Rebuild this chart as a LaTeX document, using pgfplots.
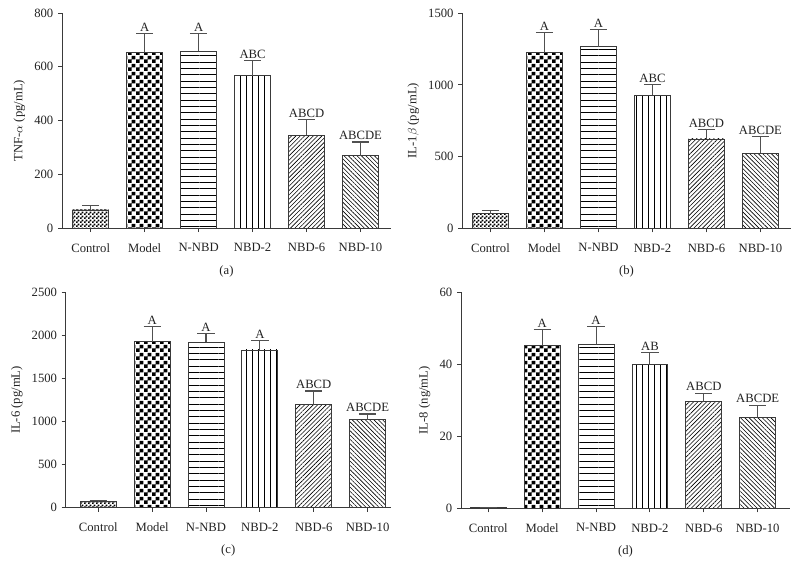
\documentclass[border=0pt]{standalone}
\usepackage{fontspec}
\setmainfont{Liberation Serif}
\usepackage{pgfplots}
\pgfplotsset{compat=1.18}
\usetikzlibrary{patterns,patterns.meta}

\pgfdeclarepatternformonly{chkbig}{\pgfpointorigin}{\pgfpoint{6pt}{6pt}}{\pgfpoint{6pt}{6pt}}{%
 \pgfpathrectangle{\pgfpointorigin}{\pgfpoint{3pt}{3pt}}%
 \pgfpathrectangle{\pgfpoint{3pt}{3pt}}{\pgfpoint{3pt}{3pt}}%
 \pgfusepath{fill}}
\pgfdeclarepatternformonly{chksmall}{\pgfpointorigin}{\pgfpoint{3pt}{3pt}}{\pgfpoint{3pt}{3pt}}{%
 \pgfpathrectangle{\pgfpointorigin}{\pgfpoint{1.5pt}{1.5pt}}%
 \pgfpathrectangle{\pgfpoint{1.5pt}{1.5pt}}{\pgfpoint{1.5pt}{1.5pt}}%
 \pgfusepath{fill}}

\definecolor{axc}{HTML}{3A3A3A}
\definecolor{barc}{HTML}{3A3A3A}
\definecolor{errc}{HTML}{505050}
\definecolor{txtc}{HTML}{222222}

\pgfplotsset{
  panel/.style={
    scale only axis, anchor=south west,
    axis x line*=bottom, axis y line*=left,
    axis line style={-, draw=axc, line width=0.7pt},
    tick style={draw=axc, line width=0.7pt},
    tick align=outside, major tick length=3pt,
    xtick={0,1,2,3,4,5},
    xticklabels={Control,Model,N-NBD,NBD-2,NBD-6,NBD-10},
    ymin=0,
    /pgf/number format/assume math mode=true,
    /pgf/number format/1000 sep={},
    tick label style={font=\fontsize{9.5}{11}\selectfont, text=txtc},
    xticklabel style={yshift=-5pt},
    label style={font=\fontsize{9.5}{11}\selectfont, text=txtc},
    xlabel style={yshift=-3pt},
    clip=false,
  },
  bb/.style={ybar, bar shift=0pt, bar width=0.667, draw=barc, line width=0.7pt, fill=white,
    error bars/y dir=plus, error bars/y explicit,
    error bars/error bar style={line width=0.8pt, draw=errc},
    error bars/error mark options={rotate=90, mark size=6.5pt, line width=0.8pt, draw=errc}},
  p0/.style={postaction={pattern=chksmall}},
  p1/.style={postaction={pattern=chkbig}},
  p2/.style={postaction={pattern={Lines[angle=0,distance=4.75pt,line width=0.7pt]}}},
  p3/.style={postaction={pattern={Lines[angle=90,distance=4.5pt,line width=0.7pt]}}},
  p4/.style={postaction={pattern={Lines[angle=45,distance=2.3pt,line width=0.45pt]}}},
  p5/.style={postaction={pattern={Lines[angle=-45,distance=2.3pt,line width=0.45pt]}}},
}
\newcommand\lab[3]{\node[anchor=south, inner sep=1.5pt, font=\fontsize{9.5}{11}\selectfont, text=txtc] at (axis cs:#1,#2) {#3};}

\begin{document}
\begin{tikzpicture}
\path[use as bounding box] (0,0) rectangle (597pt,-431.25pt);

% (a)
\begin{axis}[panel, at={(46.5pt,-171pt)}, width=246.75pt, height=161.25pt,
  xmin=-0.532, xmax=5.565, ymax=800, ytick={0,200,400,600,800},
  ylabel={TNF-$\alpha$ (pg/mL)}, xlabel={(a)}]
\addplot[bb, p0] coordinates {(0,67) +- (0,16)};
\addplot[bb, p1] coordinates {(1,654) +- (0,70)};
\addplot[bb, p2] coordinates {(2,657) +- (0,67)};
\addplot[bb, p3] coordinates {(3,567) +- (0,55)};
\addplot[bb, p4] coordinates {(4,346) +- (0,58)};
\addplot[bb, p5] coordinates {(5,269) +- (0,51)};
\lab{1}{724}{A}
\lab{2}{724}{A}
\lab{3}{622}{ABC}
\lab{4}{404}{ABCD}
\lab{5}{320}{ABCDE}
\end{axis}

% (b)
\begin{axis}[panel, at={(346.7pt,-171.2pt)}, width=246.3pt, height=161.25pt,
  xmin=-0.522, xmax=5.56, ymax=1500, ytick={0,500,1000,1500},
  ylabel={IL-1$\beta$ (pg/mL)}, xlabel={(b)}]
\addplot[bb, p0] coordinates {(0,100) +- (0,23)};
\addplot[bb, p1] coordinates {(1,1228) +- (0,137)};
\addplot[bb, p2] coordinates {(2,1265) +- (0,119)};
\addplot[bb, p3] coordinates {(3,928) +- (0,74)};
\addplot[bb, p4] coordinates {(4,623) +- (0,65)};
\addplot[bb, p5] coordinates {(5,525) +- (0,114)};
\lab{1}{1365}{A}
\lab{2}{1384}{A}
\lab{3}{1002}{ABC}
\lab{4}{688}{ABCD}
\lab{5}{639}{ABCDE}
\end{axis}

% (c)
\begin{axis}[panel, at={(49.3pt,-380.8pt)}, width=243.75pt, height=161.55pt,
  xmin=-0.605, xmax=5.43, ymax=2500, ytick={0,500,1000,1500,2000,2500},
  ylabel={IL-6 (pg/mL)}, xlabel={(c)}]
\addplot[bb, p0] coordinates {(0,77) +- (0,5)};
\addplot[bb, p1] coordinates {(1,1927) +- (0,175)};
\addplot[bb, p2] coordinates {(2,1920) +- (0,100)};
\addplot[bb, p3] coordinates {(3,1831) +- (0,108)};
\addplot[bb, p4] coordinates {(4,1200) +- (0,155)};
\addplot[bb, p5] coordinates {(5,1022) +- (0,66)};
\lab{1}{2102}{A}
\lab{2}{2020}{A}
\lab{3}{1939}{A}
\lab{4}{1355}{ABCD}
\lab{5}{1088}{ABCDE}
\end{axis}

% (d)
\begin{axis}[panel, at={(345.75pt,-381.2pt)}, width=246.75pt, height=162pt,
  xmin=-0.507, xmax=5.60, ymax=60, ytick={0,20,40,60},
  ylabel={IL-8 (ng/mL)}, xlabel={(d)}]
\addplot[bb, p0] coordinates {(0,0.2) +- (0,0)};
\addplot[bb, p1] coordinates {(1,45.3) +- (0,4.4)};
\addplot[bb, p2] coordinates {(2,45.5) +- (0,5.0)};
\addplot[bb, p3] coordinates {(3,40.0) +- (0,3.3)};
\addplot[bb, p4] coordinates {(4,29.6) +- (0,2.4)};
\addplot[bb, p5] coordinates {(5,25.3) +- (0,3.3)};
\lab{1}{49.7}{A}
\lab{2}{50.5}{A}
\lab{3}{43.3}{AB}
\lab{4}{32.0}{ABCD}
\lab{5}{28.6}{ABCDE}
\end{axis}
\end{tikzpicture}
\end{document}
